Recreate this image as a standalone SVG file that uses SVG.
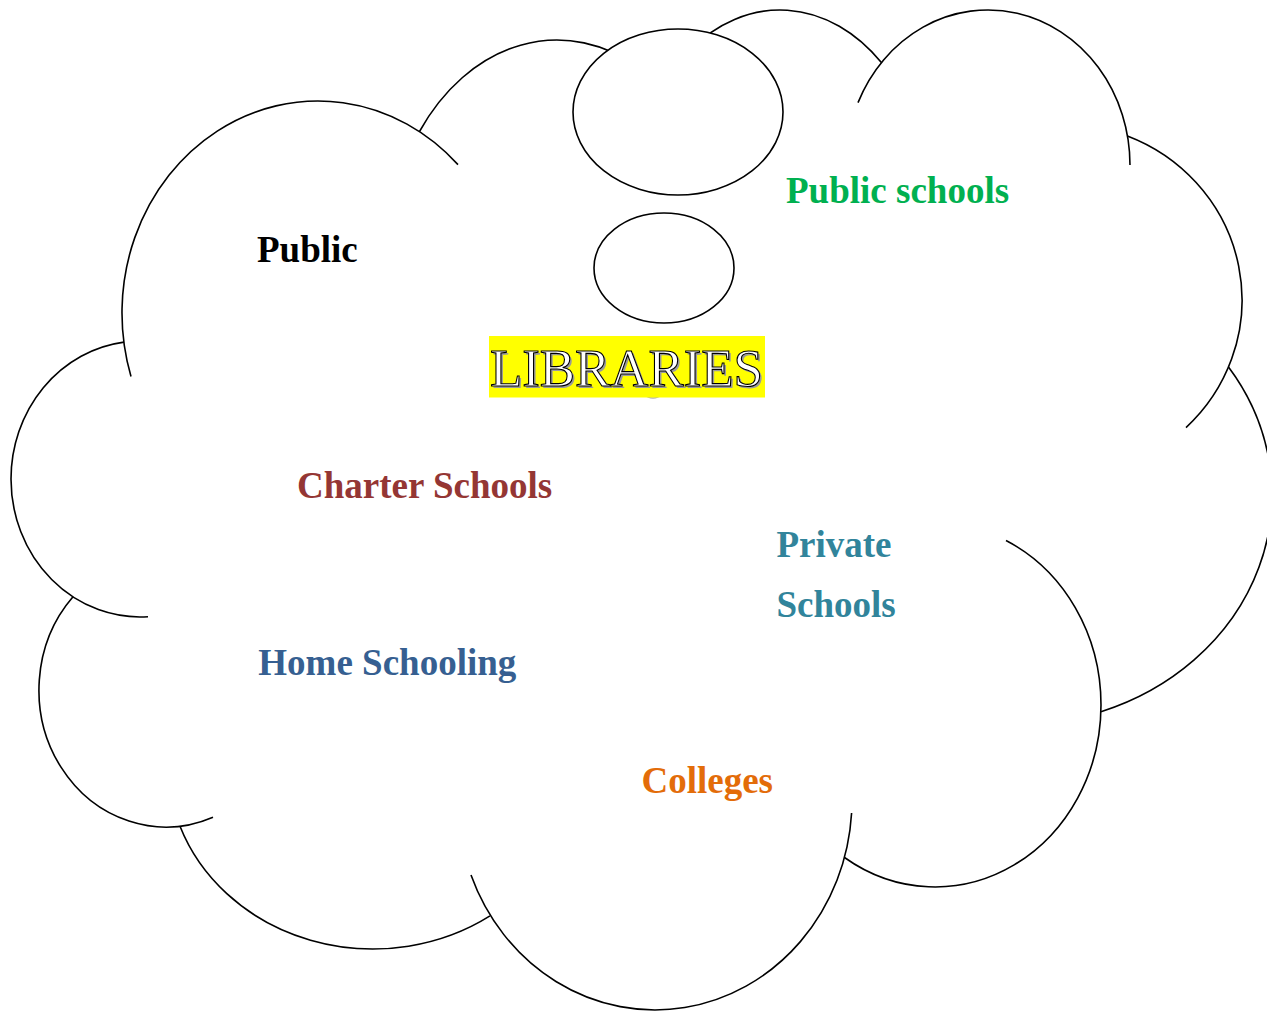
<svg xmlns="http://www.w3.org/2000/svg" width="1267" height="1011" viewBox="0 0 1267 1011">
<style>
.ol{fill:none;stroke:#000;stroke-width:1.6}
.bub{fill:#fff;stroke:#000;stroke-width:1.6}
.lbl{font-family:"Liberation Serif","Times New Roman",serif;font-weight:bold;font-size:37px}
.lib{font-family:"Liberation Serif","Times New Roman",serif;font-size:53px}
</style>
<rect width="1267" height="1011" fill="#fff"/>
<g id="cloud">
<path class="ol" d="M131,376.5 A196,212 0 0 1 458,164.6"/>
<path class="ol" d="M419.5,131.5 A170,222 0 0 1 640,68.3"/>
<path class="ol" d="M690,50 A150,200 0 0 1 881.4,62.6"/>
<path class="ol" d="M858,102.6 A142,155 0 0 1 1130,165"/>
<path class="ol" d="M1127.4,136 A180,176 0 0 1 1186,427.6"/>
<path class="ol" d="M1228.5,367 A257,230 0 0 1 1101,711.7"/>
<path class="ol" d="M1006,540.5 A166,182 0 0 1 1101,705 A166,182 0 0 1 844.5,857.5"/>
<path class="ol" d="M851.6,813 A197,210 0 0 1 471,875"/>
<path class="ol" d="M180,826.3 A205,185 0 0 0 490,915.9"/>
<path class="ol" d="M73,596.7 A127,137 0 0 0 213,817.3"/>
<path class="ol" d="M124,342.1 A129,138 0 0 0 11,479 A129,138 0 0 0 148,616.7"/>
</g>
<g id="bubbles">
<ellipse id="bubble1" class="bub" cx="678" cy="112" rx="105" ry="83"/>
<ellipse id="bubble2" class="bub" cx="664" cy="268" rx="70" ry="55"/>
<ellipse id="bubble3" cx="653" cy="387" rx="12" ry="11" style="fill:#fff;stroke:#b0b0b0;stroke-width:1.4"/>
</g>
<g id="libraries">
<rect x="489" y="336" width="276" height="61.5" fill="#ffff00"/>
<text class="lib" x="492" y="387.7" fill="#9a9a9a" textLength="273" lengthAdjust="spacingAndGlyphs">LIBRARIES</text>
<text class="lib" x="490" y="385.7" fill="#fff" stroke="#000" stroke-width="1.1" textLength="273" lengthAdjust="spacingAndGlyphs">LIBRARIES</text>
</g>
<g id="public"><text class="lbl" x="257" y="262.3" fill="#000">Public</text></g>
<g id="public-schools"><text class="lbl" x="786" y="202.7" fill="#00b050">Public schools</text></g>
<g id="charter-schools"><text class="lbl" x="297" y="497.7" fill="#943634">Charter Schools</text></g>
<g id="private-schools"><text class="lbl" fill="#31849b"><tspan x="776.5" y="556.7">Private</tspan><tspan x="776.5" y="616.7">Schools</tspan></text></g>
<g id="home-schooling"><text class="lbl" x="258.3" y="675" fill="#365f91">Home Schooling</text></g>
<g id="colleges"><text class="lbl" x="641.5" y="792.7" fill="#e36c09">Colleges</text></g>
</svg>
